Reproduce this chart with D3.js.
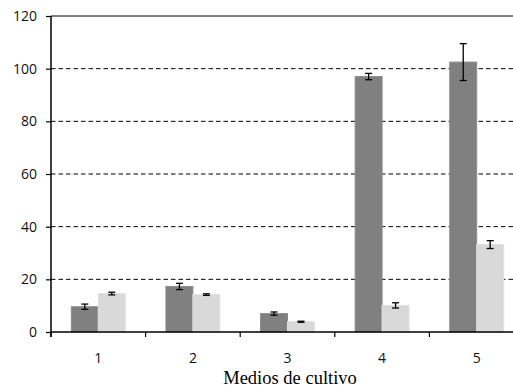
<!DOCTYPE html>
<html><head><meta charset="utf-8">
<script src="https://cdn.jsdelivr.net/npm/d3@7"></script>
<style>body{margin:0;background:#fff}svg{display:block}</style>
</head><body>
<svg id="c" width="513" height="389"></svg>
<script>
const categories = ["1","2","3","4","5"];
const seriesA = [9.6, 17.3, 7.0, 97.0, 102.5];
const errA = [1.0, 1.2, 0.6, 1.2, 7.0];
const seriesB = [14.6, 14.2, 3.9, 10.1, 33.2];
const errB = [0.5, 0.3, 0.2, 1.0, 1.5];
const yTicks = [0,20,40,60,80,100,120];
const xTitle = "Medios de cultivo";

const svg = d3.select("#c");
const L = 51, R = 524, T = 16, B = 332;
const x = d3.scaleBand().domain(categories).range([L, R]).paddingInner(0.43).paddingOuter(0.215);
const xg = d3.scaleBand().domain(categories).range([L, R]);
const y = d3.scaleLinear().domain([0,120]).range([B, T]);
const inner = d3.scaleBand().domain(["a","b"]).range([0, x.bandwidth()]);

// gridlines
svg.append("g").selectAll("line").data(yTicks.filter(d=>d>0)).join("line")
  .attr("x1", L).attr("x2", R).attr("y1", d=>y(d)).attr("y2", d=>y(d))
  .attr("stroke", "#000").attr("stroke-width", 1)
  .attr("stroke-dasharray", d => d===120 ? null : "4.5,3");

const data = categories.map((c,i)=>({c, a:seriesA[i], ea:errA[i], b:seriesB[i], eb:errB[i]}));
const bars = [];
data.forEach(d=>{ bars.push({c:d.c,k:"a",v:d.a,e:d.ea}); bars.push({c:d.c,k:"b",v:d.b,e:d.eb}); });

svg.append("g").selectAll("rect").data(bars).join("rect")
  .attr("x", d=>x(d.c)+inner(d.k)).attr("width", inner.bandwidth())
  .attr("y", d=>y(d.v)).attr("height", d=>B - y(d.v))
  .attr("fill", d=>d.k==="a" ? "#808080" : "#d9d9d9")
  .attr("stroke", d=>d.k==="a" ? "#8c8c8c" : "#e0e0e0").attr("stroke-width", 1);

// error bars
const eg = svg.append("g").attr("stroke", "#000").attr("stroke-width", 1.3);
bars.forEach(d=>{
  const cx = x(d.c)+inner(d.k)+inner.bandwidth()/2;
  eg.append("line").attr("x1",cx).attr("x2",cx).attr("y1",y(d.v+d.e)).attr("y2",y(d.v-d.e));
  [d.v+d.e, d.v-d.e].forEach(v=>eg.append("line").attr("x1",cx-3.5).attr("x2",cx+3.5).attr("y1",y(v)).attr("y2",y(v)));
});

// y axis
const ya = svg.append("g").attr("transform", `translate(${L},0)`)
  .call(d3.axisLeft(y).tickValues(yTicks).tickSize(5).tickPadding(9));
ya.select(".domain").attr("d", `M0,${T}V${B+5}`).attr("stroke-width",1.5);
ya.selectAll(".tick line").attr("stroke-width",1.2);
ya.selectAll("text").attr("font-family","'Open Sans', sans-serif").attr("font-size",14).attr("fill","#111");

// x axis
const xa = svg.append("g").attr("transform", `translate(0,${B})`);
xa.append("line").attr("x1",L).attr("x2",R).attr("y1",0).attr("y2",0).attr("stroke","#000").attr("stroke-width",1.5);
xa.selectAll(".bt").data(categories).join("line").attr("class","bt")
  .attr("x1",d=>xg(d)).attr("x2",d=>xg(d)).attr("y1",0).attr("y2",5).attr("stroke","#000").attr("stroke-width",1.2);
xa.selectAll("text").data(categories).join("text")
  .attr("x", d=>xg(d)+xg.bandwidth()/2).attr("y", 31).attr("text-anchor","middle")
  .attr("font-family","'Open Sans', sans-serif").attr("font-size",14).attr("fill","#111").text(d=>d);

svg.append("text").attr("x", 290).attr("y", 384).attr("text-anchor","middle")
  .attr("font-family","'Liberation Serif', 'Times New Roman', serif").attr("font-size",18.5).text(xTitle);
</script>
</body></html>
